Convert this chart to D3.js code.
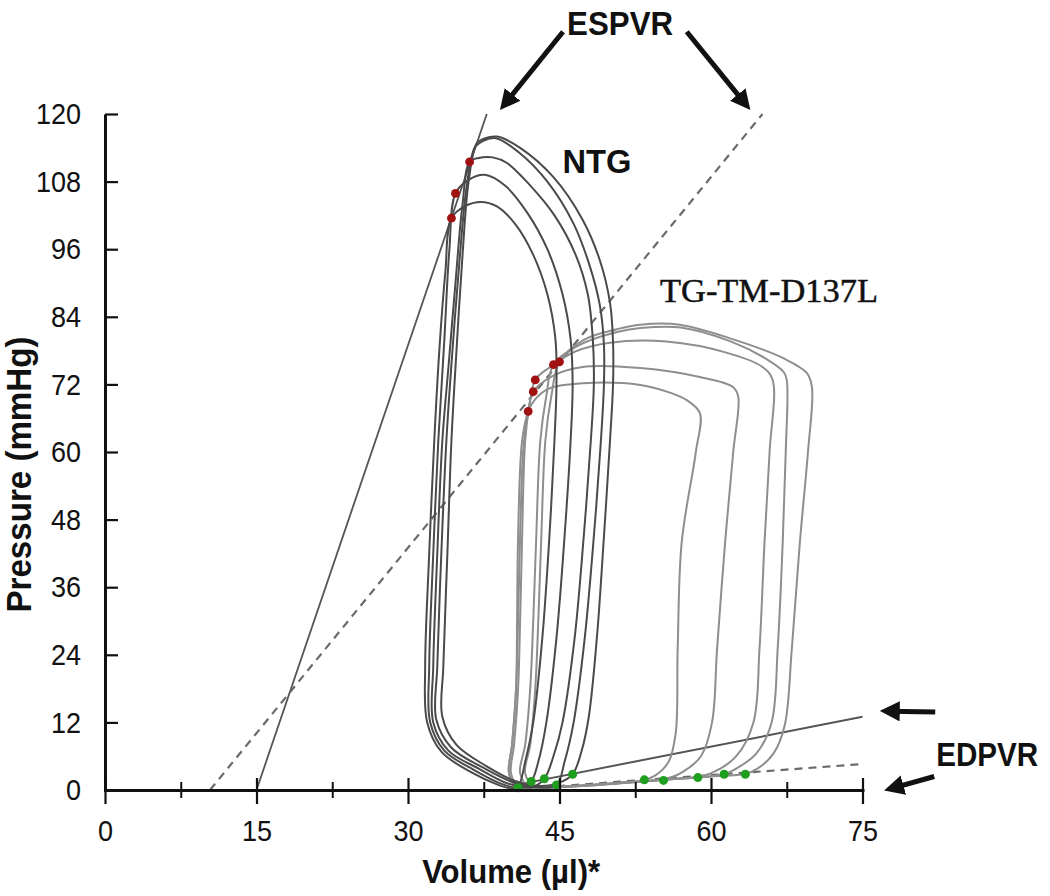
<!DOCTYPE html>
<html>
<head>
<meta charset="utf-8">
<script src="https://cdn.jsdelivr.net/npm/d3@7"></script>
<style>
    body { margin: 0; background: #fff; }
    svg { display: block; }
    .tick text { font-family: "Liberation Sans", Arial, sans-serif; font-size: 30px; fill: #111; }
    .lbl { font-family: "Liberation Sans", Arial, sans-serif; font-weight: bold; fill: #111; }
</style>
</head>
<body>
<svg width="1050" height="896"></svg>
<script>
// axis ticks
var yTicks = [0, 12, 24, 36, 48, 60, 72, 84, 96, 108, 120];
var xTicks = [0, 15, 30, 45, 60, 75];
var xMinor = [7.5, 22.5, 37.5, 52.5, 67.5];

// NTG pressure-volume loops, [volume µl, pressure mmHg]
var ntgLoops = [
    [[46.3,2.8],[47.2,7],[47.9,13],[48.7,27],[49.4,45],[50.0,62],[50.3,72],[50.3,79.5],[50.0,86.5],[49.0,94],[47.3,101.2],[44.4,108.8],[41.1,114],[38.8,116],[37.5,115.6],[36.8,114.8],[36.0,108],[35.4,95],[34.8,78],[34.3,62],[33.9,42],[33.5,22],[33.4,13],[34.8,8],[37.8,4.2],[40.6,1.6],[43,0.7],[45,1.3]],
    [[44.7,0.9],[45.5,5],[46.4,12],[47.5,27],[48.4,45],[49.1,62],[49.4,72],[49.4,79],[49.0,86],[48.0,93],[46.4,100.5],[43.8,108],[40.9,113.3],[38.7,115.7],[37.4,115.2],[36.6,114],[35.8,107],[35.1,94],[34.4,78],[33.8,62],[33.3,42],[32.9,22],[32.8,12.5],[34.3,7.5],[37.4,4],[40.2,1.5],[42.6,0.5]],
    [[43.5,2.0],[44.4,6],[45.3,12],[46.5,27],[47.4,45],[48.1,62],[48.4,72],[48.3,80],[47.8,88],[46.6,95],[44.5,102],[42,107.5],[39.8,111.3],[38.4,112.3],[37.0,112.2],[36.1,111.5],[35.4,104],[34.7,90],[34.0,75],[33.4,62],[32.9,42],[32.5,22],[32.5,12],[34,7],[37,3.8],[39.8,1.2],[42.3,0.5]],
    [[42.2,1.5],[42.9,5],[43.7,12],[44.7,27],[45.5,45],[46.1,62],[46.3,72],[46.1,80],[45.3,88],[43.8,96],[41.8,102.5],[39.6,107.3],[37.6,109.2],[36.0,108.3],[34.7,105.9],[34.1,96],[33.6,80],[33.0,62],[32.5,42],[32.1,22],[32.2,12],[33.6,7],[36.6,3.5],[39.4,1.0],[41.2,0.4]],
    [[40.9,0.6],[41.6,5],[42.4,12],[43.3,27],[44.0,45],[44.5,62],[44.7,72],[44.6,80],[43.8,88],[42.4,95],[40.6,100.5],[38.8,103.6],[37.2,104.4],[35.6,103.6],[34.3,101.5],[33.7,92],[33.1,78],[32.6,62],[32.1,42],[31.7,22],[31.9,12],[33.3,6.8],[36.2,3.2],[38.8,1.0],[40.2,0.3]]
];

// TG-TM-D137L loops
var tgLoops = [
    [[63.4,2.9],[64.6,3.8],[66.2,6.5],[67.3,11.5],[68,25],[68.8,44],[69.6,60],[70,71.4],[69.5,74],[67.1,76.7],[62.2,80],[56.9,82.6],[53,82.6],[50.7,81.8],[47.5,80],[45,76],[44.2,70],[43.6,62],[43.2,45],[42.9,30],[42.6,18],[42.1,8],[41.6,3],[42.5,0.6],[46,0.6],[51,1.2],[56,1.9],[60,2.4]],
    [[61.3,2.8],[62.5,3.8],[64.5,6.5],[66,12],[66.6,25],[67.1,44],[67.4,60],[67.5,72.8],[67.2,74.2],[65.5,76.5],[62,79.6],[57,82.1],[53,82],[50.5,81.2],[47,79],[44.4,75.5],[43.7,70],[43.1,62],[42.7,45],[42.4,30],[42.1,18],[41.6,8],[41.1,3],[42,0.6],[46,0.6],[51,1.2],[56,1.9]],
    [[58.7,2.3],[60.3,3.2],[62.5,6],[64.2,12],[64.8,25],[65.3,44],[65.8,60],[66.1,72.8],[65.1,75.1],[61.6,77.6],[55.6,79.6],[50,79.4],[46.5,77.8],[44,75],[42.6,72.8],[42.0,68],[41.6,62],[41.3,45],[41.1,30],[40.9,18],[40.5,8],[40.2,3],[41,0.5],[45,0.5],[50,1.1],[55,1.8]],
    [[55.3,1.9],[57,3],[59,6],[60.1,12],[60.6,25],[61.4,44],[62.2,60],[62.7,69.8],[62.2,71.5],[58.9,73.3],[53,74.9],[47.3,75.1],[44.2,73.4],[42.4,70.7],[41.8,66],[41.4,60],[41.1,45],[40.9,30],[40.7,18],[40.3,8],[40,3],[40.8,0.5],[44,0.5],[48,0.9],[52,1.4]],
    [[53.4,1.8],[54.5,2.6],[55.8,5],[56.5,10],[56.7,25],[57.1,44],[58.5,60],[58.9,66.9],[57.6,69.2],[56,70.5],[53,71.9],[47.3,72.2],[44,71.3],[42.6,69.4],[41.9,67.2],[41.3,62],[40.9,45],[40.8,30],[40.7,18],[40.3,8],[40,3],[40.8,0.5],[44,0.5],[48,0.9],[51,1.3]]
];

// end-systolic (red) and end-diastolic (green) points
var ntgES = [[36.1,111.5],[34.7,105.9],[34.3,101.5]];
var tgES = [[45.0,76.0],[44.4,75.5],[42.6,72.8],[42.4,70.7],[41.9,67.2]];
var ntgED = [[40.9,0.4],[42.2,1.5],[43.5,2.0],[44.7,0.9],[46.3,2.8]];
var tgED = [[53.4,1.8],[55.3,1.7],[58.7,2.2],[61.3,2.8],[63.4,2.8]];

// relation lines
var espvrNTG = [[15,0],[37.8,120]];
var espvrTG = [[10.4,0],[65.1,120]];
var edpvrNTG = [[41,1.0],[75,13]];
var edpvrTG = [[42,0.3],[75,4.6]];

// annotations (data coordinates)
var labels = [
    {text: "ESPVR", at: [51.0,134.1], anchor: "middle", size: 33, width: 106},
    {text: "NTG", at: [45.3,109.5], anchor: "start", size: 33, width: 69},
    {text: "EDPVR", at: [82.3,4.2], anchor: "start", size: 33, width: 102}
];
var arrows = [
    [[45.35,134.6],[39.6,121.8]],
    [[57.6,134.6],[63.4,121.8]],
    [[82.2,13.85],[77.5,14.0]],
    [[82.1,2.4],[77.9,0.3]]
];

var svg = d3.select("svg");

var x = d3.scaleLinear().domain([0, 75]).range([105, 862.5]);
var y = d3.scaleLinear().domain([0, 120]).range([790, 114]);

var line = d3.line()
    .x(function(d) { return x(d[0]); })
    .y(function(d) { return y(d[1]); });

var loopLine = d3.line()
    .x(function(d) { return x(d[0]); })
    .y(function(d) { return y(d[1]); })
    .curve(d3.curveCatmullRomClosed.alpha(0.5));

// squeeze text sideways, the original lettering is narrow and tall
function squeeze(sel, k) {
    sel.each(function() {
        var w = this.getComputedTextLength();
        d3.select(this).attr("textLength", w * k).attr("lengthAdjust", "spacingAndGlyphs");
    });
}

svg.append("defs").append("marker")
    .attr("id", "head")
    .attr("viewBox", "0 0 10 10")
    .attr("refX", 6)
    .attr("refY", 5)
    .attr("markerWidth", 4)
    .attr("markerHeight", 4)
    .attr("orient", "auto")
    .append("path")
    .attr("d", "M0,0L10,5L0,10Z")
    .attr("fill", "#111");

// relation lines
svg.append("path").attr("d", line(espvrNTG)).attr("fill", "none").attr("stroke", "#555").attr("stroke-width", 1.8);
svg.append("path").attr("d", line(edpvrNTG)).attr("fill", "none").attr("stroke", "#555").attr("stroke-width", 2);
svg.append("path").attr("d", line(espvrTG)).attr("fill", "none").attr("stroke", "#6a6a6a")
    .attr("stroke-width", 2.2).attr("stroke-dasharray", "8,6");
svg.append("path").attr("d", line(edpvrTG)).attr("fill", "none").attr("stroke", "#6a6a6a")
    .attr("stroke-width", 2.2).attr("stroke-dasharray", "8,6");

// loops
svg.append("g").selectAll("path").data(tgLoops).enter().append("path")
    .attr("d", loopLine)
    .attr("fill", "none")
    .attr("stroke", "#8e8e8e")
    .attr("stroke-width", 2);

svg.append("g").selectAll("path").data(ntgLoops).enter().append("path")
    .attr("d", loopLine)
    .attr("fill", "none")
    .attr("stroke", "#4a4a4a")
    .attr("stroke-width", 2);

// points
svg.append("g").selectAll("circle").data(ntgES.concat(tgES)).enter().append("circle")
    .attr("cx", function(d) { return x(d[0]); })
    .attr("cy", function(d) { return y(d[1]); })
    .attr("r", 4.4)
    .attr("fill", "#a01212");

svg.append("g").selectAll("circle").data(ntgED.concat(tgED)).enter().append("circle")
    .attr("cx", function(d) { return x(d[0]); })
    .attr("cy", function(d) { return y(d[1]); })
    .attr("r", 4.5)
    .attr("fill", "#1f9e1f");

// axes
var gy = svg.append("g")
    .attr("transform", "translate(" + x(0) + ",0)")
    .call(d3.axisLeft(y).tickValues(yTicks).tickSize(13).tickSizeOuter(0).tickPadding(11));
gy.select(".domain").attr("stroke", "#111").attr("stroke-width", 3);
gy.selectAll(".tick line").attr("x2", 13).attr("stroke", "#111").attr("stroke-width", 2.2);
gy.selectAll(".tick text").attr("font-family", null).attr("font-size", null).call(squeeze, 0.9);

var gx = svg.append("g")
    .attr("transform", "translate(0," + y(0) + ")")
    .call(d3.axisBottom(x).tickValues(xTicks).tickSize(14).tickSizeOuter(0).tickPadding(16));
gx.select(".domain").attr("stroke", "#111").attr("stroke-width", 3).attr("stroke-linecap", "square");
gx.selectAll(".tick line").attr("y1", -12).attr("stroke", "#111").attr("stroke-width", 2.2);
gx.selectAll(".tick text").attr("font-family", null).attr("font-size", null).call(squeeze, 0.9);

var gm = svg.append("g")
    .attr("transform", "translate(0," + y(0) + ")")
    .call(d3.axisBottom(x).tickValues(xMinor).tickSize(8).tickFormat(""));
gm.select(".domain").remove();
gm.selectAll(".tick line").attr("y1", -8).attr("stroke", "#111").attr("stroke-width", 2);

// axis titles
svg.append("text")
    .attr("class", "lbl")
    .attr("transform", "translate(31," + y(56) + ") rotate(-90)")
    .attr("text-anchor", "middle")
    .attr("font-size", 35)
    .attr("textLength", 276)
    .attr("lengthAdjust", "spacingAndGlyphs")
    .text("Pressure (mmHg)");

svg.append("text")
    .attr("class", "lbl")
    .attr("x", x(31.4))
    .attr("y", 883)
    .attr("font-size", 34)
    .attr("textLength", 178)
    .attr("lengthAdjust", "spacingAndGlyphs")
    .text("Volume (\u00b5l)*");

// annotations
svg.append("g").selectAll("text").data(labels).enter().append("text")
    .attr("class", "lbl")
    .attr("x", function(d) { return x(d.at[0]); })
    .attr("y", function(d) { return y(d.at[1]); })
    .attr("text-anchor", function(d) { return d.anchor; })
    .attr("font-size", function(d) { return d.size; })
    .attr("textLength", function(d) { return d.width; })
    .attr("lengthAdjust", "spacingAndGlyphs")
    .text(function(d) { return d.text; });

svg.append("text")
    .attr("x", x(54.95))
    .attr("y", y(86.6))
    .attr("font-family", "'Liberation Serif', 'Times New Roman', serif")
    .attr("font-size", 34)
    .attr("fill", "#111")
    .attr("stroke", "#111")
    .attr("stroke-width", 0.5)
    .attr("textLength", 218)
    .attr("lengthAdjust", "spacingAndGlyphs")
    .text("TG-TM-D137L");

svg.append("g").selectAll("path").data(arrows).enter().append("path")
    .attr("d", line)
    .attr("fill", "none")
    .attr("stroke", "#111")
    .attr("stroke-width", 5)
    .attr("marker-end", "url(#head)");
</script>
</body>
</html>
